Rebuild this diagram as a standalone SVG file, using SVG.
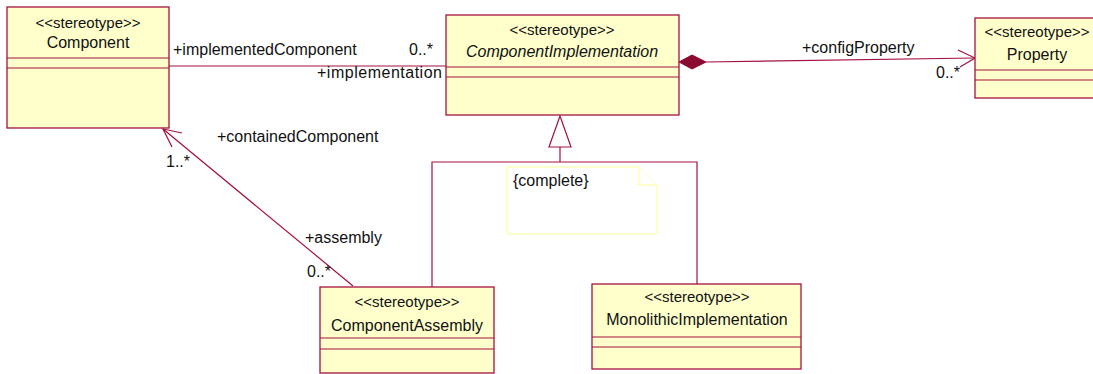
<svg xmlns="http://www.w3.org/2000/svg" width="1093" height="374" viewBox="0 0 1093 374">
  <style>
    .box { fill: #ffffcc; stroke: #a3123f; stroke-width: 1.3; }
    .sep { stroke: #a3123f; stroke-width: 1.1; }
    .st { font-family: "Liberation Sans", Arial, sans-serif; font-size: 15px; fill: #111; text-anchor: middle; }
    .nm { font-family: "Liberation Sans", Arial, sans-serif; font-size: 16px; fill: #111; text-anchor: middle; }
    .lbl { font-family: "Liberation Sans", Arial, sans-serif; font-size: 16px; fill: #111; }
    .conn { fill: none; stroke: #a3123f; stroke-width: 1.2; }
    .note { fill: #ffffff; stroke: #ffff99; stroke-width: 1; }
  </style>

  <rect width="1093" height="374" fill="#ffffff"/>

  <!-- connectors -->
  <g id="connectors">
    <!-- Component / ComponentImplementation association -->
    <line class="conn" x1="169" y1="66" x2="446" y2="66"/>
    <!-- composition to Property -->
    <line class="conn" x1="706" y1="62" x2="975" y2="58"/>
    <polygon points="679,62 692,55 706,62 692,69" fill="#8b0a32" stroke="#8b0a32" stroke-width="1"/>
    <polyline class="conn" points="958,50 975,58 960,67"/>
    <!-- containment ComponentAssembly -> Component -->
    <line class="conn" x1="353" y1="286" x2="163" y2="129"/>
    <polyline class="conn" points="182,133 163,129 172,147"/>
    <!-- generalization tree -->
    <polyline class="conn" points="432,288 432,162 697,162 697,284"/>
    <line class="conn" x1="560" y1="147" x2="560" y2="162"/>
    <polygon points="560,116 549,147 571,147" fill="#ffffff" stroke="#a3123f" stroke-width="1.2"/>

    <text class="lbl" x="173" y="55">+implementedComponent</text>
    <text class="lbl" x="409" y="55">0..*</text>
    <text class="lbl" x="317" y="78" textLength="125" lengthAdjust="spacing">+implementation</text>
    <text class="lbl" x="802" y="53">+configProperty</text>
    <text class="lbl" x="936" y="78">0..*</text>
    <text class="lbl" x="217" y="142">+containedComponent</text>
    <text class="lbl" x="166" y="167">1..*</text>
    <text class="lbl" x="305" y="243">+assembly</text>
    <text class="lbl" x="307" y="277">0..*</text>
  </g>

  <!-- {complete} constraint note -->
  <g id="note-complete">
    <path class="note" d="M507,167 H639 L657,185 V234 H507 Z"/>
    <path class="note" d="M639,167 V185 H657" fill="none"/>
    <text class="lbl" x="513" y="186">{complete}</text>
  </g>

  <g id="Component">
    <rect class="box" x="7" y="7" width="162" height="121"/>
    <line class="sep" x1="7" y1="58" x2="169" y2="58"/>
    <line class="sep" x1="7" y1="68" x2="169" y2="68"/>
    <text class="st" x="88" y="28">&lt;&lt;stereotype&gt;&gt;</text>
    <text class="nm" x="88" y="48">Component</text>
  </g>

  <g id="ComponentImplementation">
    <rect class="box" x="446" y="15" width="233" height="100"/>
    <line class="sep" x1="446" y1="67" x2="679" y2="67"/>
    <line class="sep" x1="446" y1="77" x2="679" y2="77"/>
    <text class="st" x="562" y="35">&lt;&lt;stereotype&gt;&gt;</text>
    <text class="nm" x="562" y="57" font-style="italic">ComponentImplementation</text>
  </g>

  <g id="Property">
    <rect class="box" x="975" y="18" width="125" height="80"/>
    <line class="sep" x1="975" y1="70" x2="1100" y2="70"/>
    <line class="sep" x1="975" y1="80" x2="1100" y2="80"/>
    <text class="st" x="1037" y="37">&lt;&lt;stereotype&gt;&gt;</text>
    <text class="nm" x="1037" y="60">Property</text>
  </g>

  <g id="ComponentAssembly">
    <rect class="box" x="320" y="287" width="174" height="86"/>
    <line class="sep" x1="320" y1="338" x2="494" y2="338"/>
    <line class="sep" x1="320" y1="349" x2="494" y2="349"/>
    <text class="st" x="407" y="307">&lt;&lt;stereotype&gt;&gt;</text>
    <text class="nm" x="407" y="331">ComponentAssembly</text>
  </g>

  <g id="MonolithicImplementation">
    <rect class="box" x="592" y="284" width="209" height="85"/>
    <line class="sep" x1="592" y1="337" x2="801" y2="337"/>
    <line class="sep" x1="592" y1="347" x2="801" y2="347"/>
    <text class="st" x="697" y="302">&lt;&lt;stereotype&gt;&gt;</text>
    <text class="nm" x="697" y="325">MonolithicImplementation</text>
  </g>
</svg>
